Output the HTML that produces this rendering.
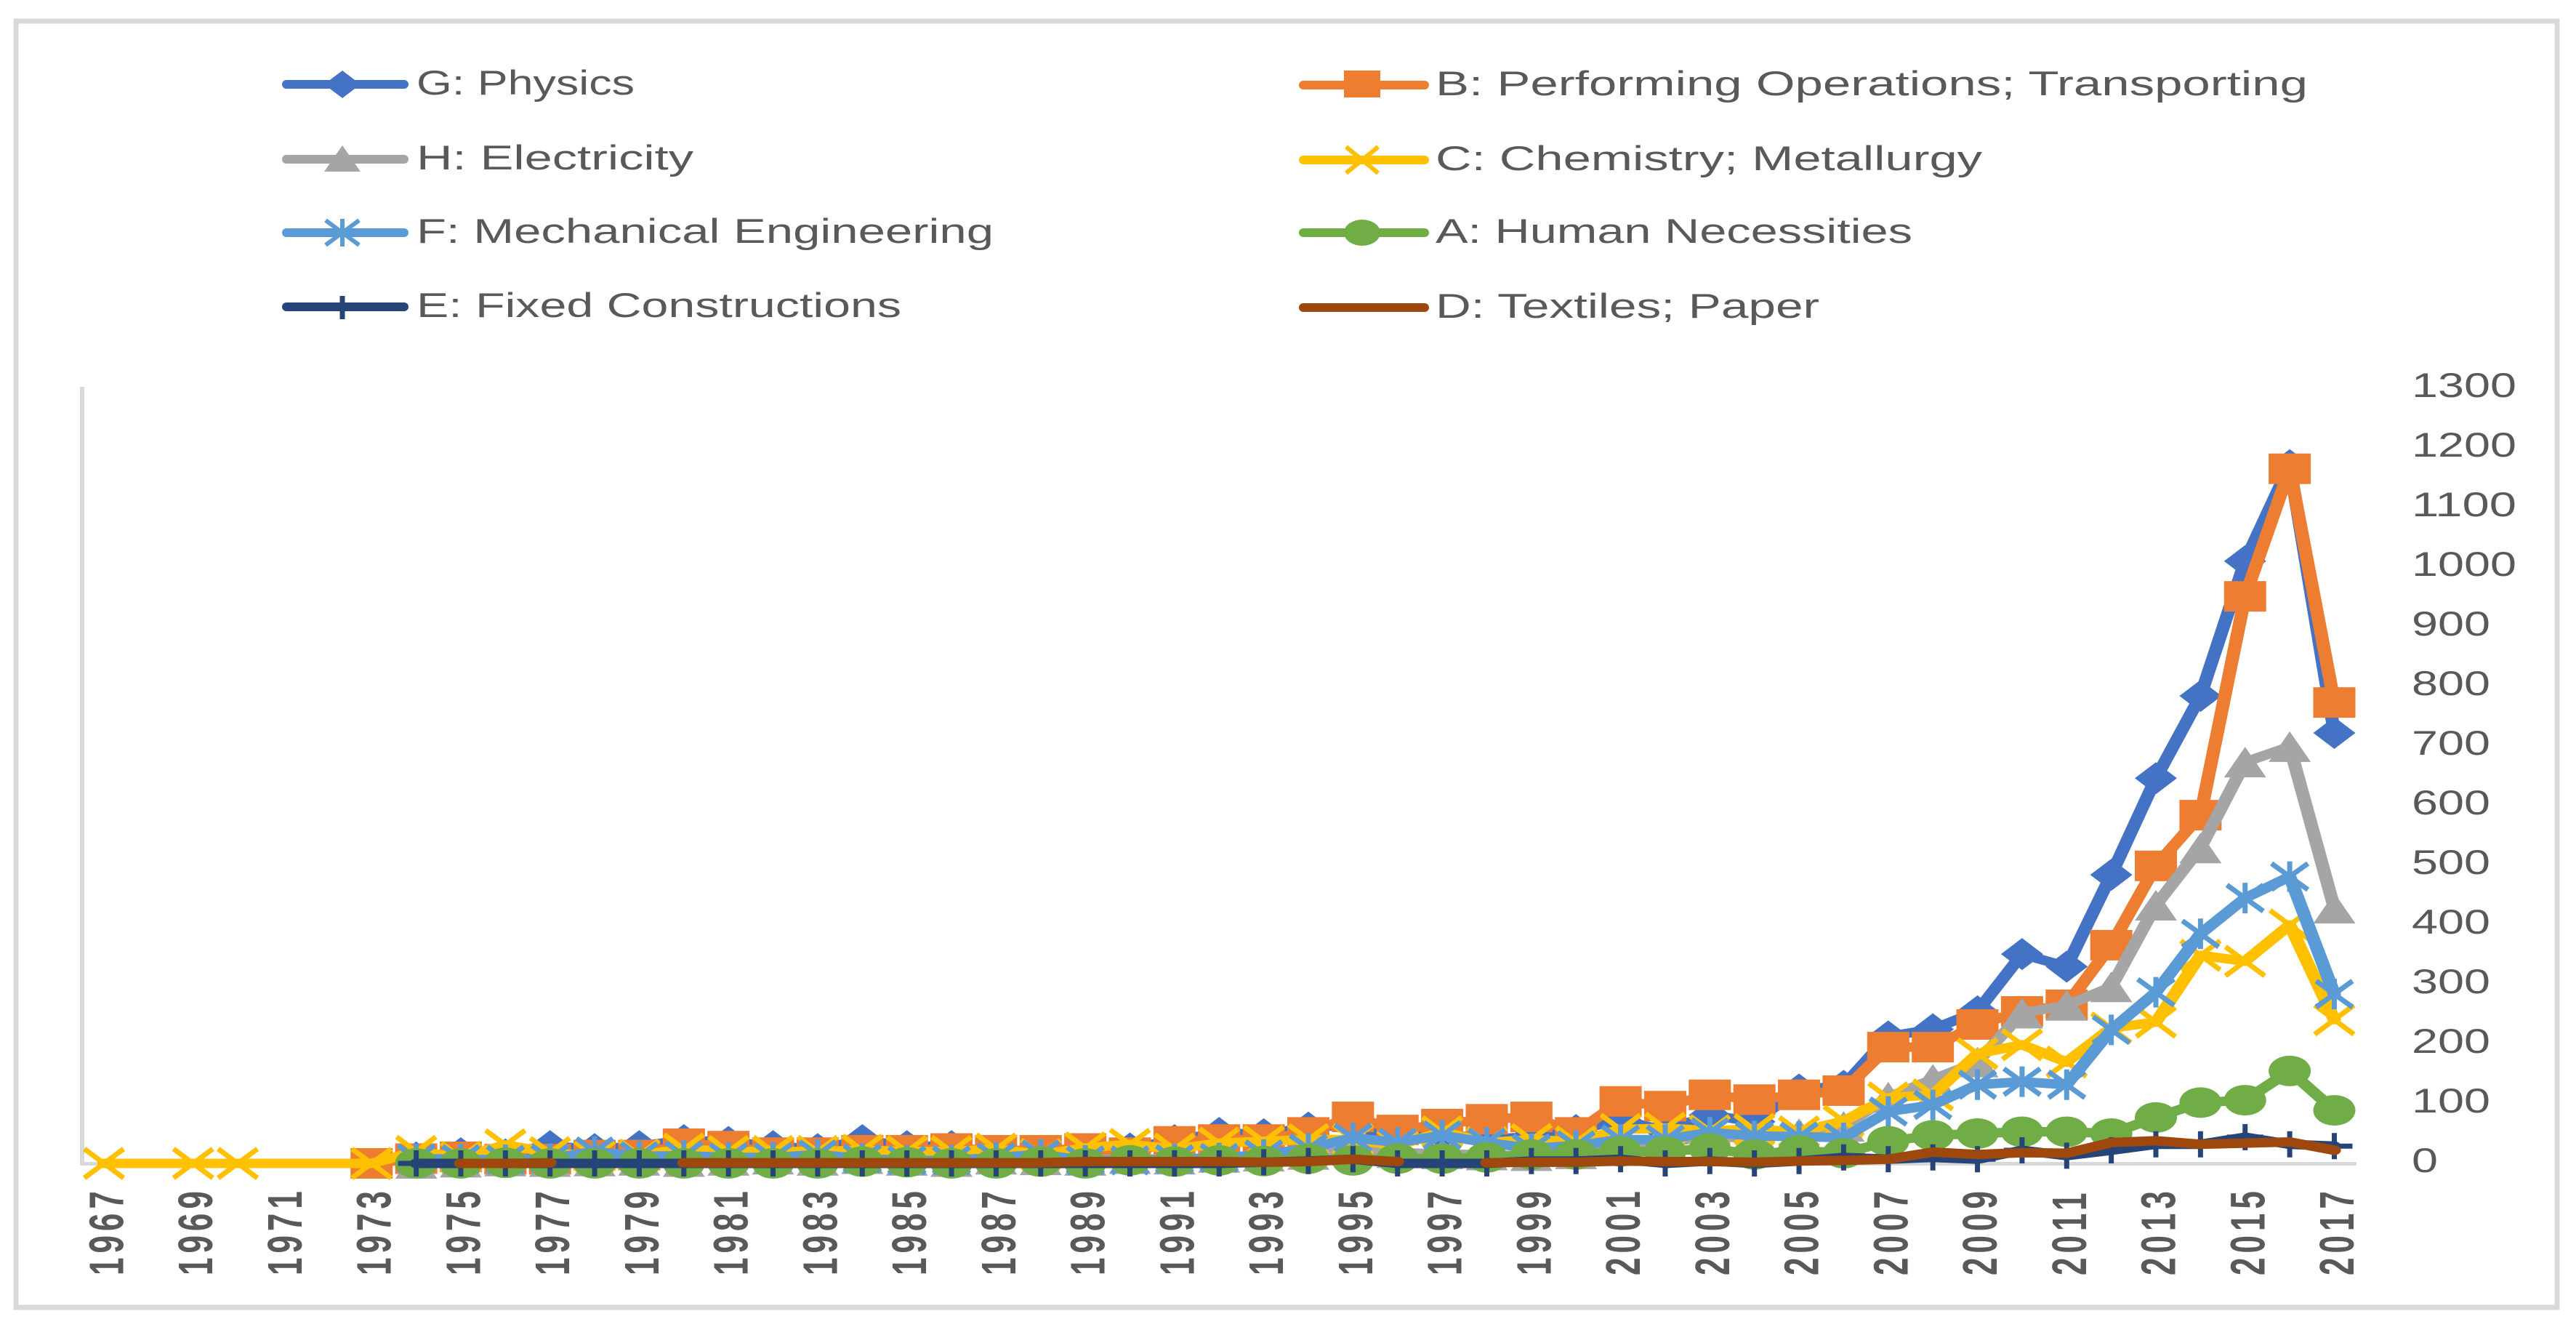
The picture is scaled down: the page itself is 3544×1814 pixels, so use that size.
<!DOCTYPE html>
<html lang="en">
<head>
<meta charset="utf-8">
<title>Patent classes by year</title>
<style>
html,body{margin:0;padding:0;background:#fff}
svg{display:block}
text{font-family:"Liberation Sans",sans-serif;fill:#595959}
</style>
</head>
<body>
<svg xmlns="http://www.w3.org/2000/svg" width="3544" height="1814" viewBox="0 0 3544 1814">
  <rect x="0" y="0" width="3544" height="1814" fill="#fff"/>
  <rect x="22" y="29" width="3496" height="1769" fill="#fff" stroke="#d9d9d9" stroke-width="7"/>

  <g id="legend">
    <g>
      <line x1="394" y1="116" x2="556" y2="116" stroke="#4472c4" stroke-width="12" stroke-linecap="round"/>
      <polygon points="471,97 496,116 471,135 446,116" fill="#4472c4"/>
      <text x="573" y="130" font-size="47" textLength="300" lengthAdjust="spacingAndGlyphs">G: Physics</text>
    </g>
    <g>
      <line x1="394" y1="219" x2="556" y2="219" stroke="#a5a5a5" stroke-width="12" stroke-linecap="round"/>
      <polygon points="471,200 496,236 446,236" fill="#a5a5a5"/>
      <text x="573" y="233" font-size="47" textLength="381" lengthAdjust="spacingAndGlyphs">H: Electricity</text>
    </g>
    <g>
      <line x1="394" y1="320" x2="556" y2="320" stroke="#5b9bd5" stroke-width="12" stroke-linecap="round"/>
      <path d="M448 303L494 337M494 303L448 337M471 301V339" stroke="#5b9bd5" stroke-width="6" fill="none"/>
      <text x="573" y="334" font-size="47" textLength="794" lengthAdjust="spacingAndGlyphs">F: Mechanical Engineering</text>
    </g>
    <g>
      <line x1="394" y1="422" x2="556" y2="422" stroke="#264478" stroke-width="12" stroke-linecap="round"/>
      <line x1="471" y1="407" x2="471" y2="439" stroke="#264478" stroke-width="7"/>
      <text x="573" y="436" font-size="47" textLength="667" lengthAdjust="spacingAndGlyphs">E: Fixed Constructions</text>
    </g>
    <g>
      <line x1="1793" y1="117" x2="1960" y2="117" stroke="#ed7d31" stroke-width="12" stroke-linecap="round"/>
      <rect x="1849" y="97" width="50" height="37" fill="#ed7d31"/>
      <text x="1975" y="131" font-size="47" textLength="1200" lengthAdjust="spacingAndGlyphs">B: Performing Operations; Transporting</text>
    </g>
    <g>
      <line x1="1793" y1="220" x2="1960" y2="220" stroke="#ffc000" stroke-width="12" stroke-linecap="round"/>
      <path d="M1852 202L1896 238M1896 202L1852 238" stroke="#ffc000" stroke-width="6" fill="none"/>
      <text x="1975" y="234" font-size="47" textLength="752" lengthAdjust="spacingAndGlyphs">C: Chemistry; Metallurgy</text>
    </g>
    <g>
      <line x1="1793" y1="320" x2="1960" y2="320" stroke="#70ad47" stroke-width="12" stroke-linecap="round"/>
      <ellipse cx="1874" cy="320" rx="25" ry="18" fill="#70ad47"/>
      <text x="1975" y="334" font-size="47" textLength="656" lengthAdjust="spacingAndGlyphs">A: Human Necessities</text>
    </g>
    <g>
      <line x1="1793" y1="423" x2="1960" y2="423" stroke="#9e480e" stroke-width="12" stroke-linecap="round"/>
      <text x="1975" y="437" font-size="47" textLength="528" lengthAdjust="spacingAndGlyphs">D: Textiles; Paper</text>
    </g>
  </g>

  <rect x="110" y="532" width="6" height="1071" fill="#d9d9d9"/>
  <rect x="112" y="1598" width="3130" height="5" fill="#d9d9d9"/>
  <g id="y-ticks"></g>
  <g id="x-ticks"></g>
  <g id="plot"></g>
</svg>

<script>
const startYear = 1967;
const yTickValues = [0,100,200,300,400,500,600,700,800,900,1000,1100,1200,1300];
const xTickLabels = ["1967","1969","1971","1973","1975","1977","1979","1981","1983","1985","1987","1989","1991","1993","1995","1997","1999","2001","2003","2005","2007","2009","2011","2013","2015","2017"];

const physics = [null,null,null,null,null,null,null,10,17,15,29,24,29,
  39,36,29,24,39,29,29,15,18,20,
  25,39,51,49,60,65,40,50,40,45,
  56,73,55,81,70,124,130,213,225,255,
  351,330,484,646,784,1010,1171,722];
const performing = [null,null,null,null,null,null,0,8,11,7,7,14,14,
  33,29,18,18,22,22,25,22,22,25,
  18,37,40,40,52,78,56,66,74,78,
  52,104,96,115,107,115,122,195,195,233,
  255,266,366,499,584,951,1165,773];
const electricity = [null,null,null,null,null,null,null,0,2,4,3,4,5,
  3,5,7,5,8,5,3,7,6,5,
  8,7,10,12,15,22,18,16,14,13,
  16,30,35,45,42,50,62,111,141,170,
  252,265,296,433,529,673,699,428];
const chemistry = [0,null,0,0,null,null,0,20,10,31,18,12,14,
  24,20,20,20,22,20,20,24,15,26,
  32,24,34,37,40,40,30,53,35,40,
  36,57,59,55,57,53,71,110,115,184,
  199,170,227,237,349,339,400,241];
const mechanical = [null,null,null,null,null,null,null,8,7,6,8,20,12,
  13,10,10,15,8,5,5,10,15,5,
  5,7,9,15,25,43,35,47,35,25,
  30,40,40,52,46,45,43,87,98,132,
  137,132,224,287,385,445,481,284];
const human = [null,null,null,null,null,null,null,0,0,1,0,0,0,
  0,0,0,0,3,2,0,0,3,0,
  5,3,5,4,8,5,8,8,10,15,
  15,20,20,25,15,22,17,37,47,50,
  53,53,50,77,102,106,155,89];
const fixed = [null,null,null,null,null,null,null,0,0,0,0,0,0,
  0,0,0,0,0,0,0,0,0,0,
  0,0,0,2,4,7,0,0,0,4,
  4,7,0,4,0,4,10,7,10,7,
  22,13,22,32,32,44,32,29];
const textiles = [null,null,null,null,null,null,null,null,0,0,1,null,null,
  1,1,1,1,1,1,1,1,1,3,
  3,3,3,2,3,7,3,null,1,2,
  2,4,3,3,2,4,5,7,19,15,
  18,17,35,38,32,34,36,22];

const seriesOrder = [
  {key:"g-physics", values:physics, color:"#4472c4", marker:"diamond", splitGaps:false},
  {key:"b-performing-operations", values:performing, color:"#ed7d31", marker:"square", splitGaps:false},
  {key:"h-electricity", values:electricity, color:"#a5a5a5", marker:"triangle", splitGaps:false},
  {key:"c-chemistry-metallurgy", values:chemistry, color:"#ffc000", marker:"cross", splitGaps:false},
  {key:"f-mechanical-engineering", values:mechanical, color:"#5b9bd5", marker:"asterisk", splitGaps:false},
  {key:"a-human-necessities", values:human, color:"#70ad47", marker:"circle", splitGaps:false},
  {key:"e-fixed-constructions", values:fixed, color:"#264478", marker:"plus", splitGaps:false},
  {key:"d-textiles-paper", values:textiles, color:"#9e480e", marker:"none", splitGaps:true}
];

const NS = "http://www.w3.org/2000/svg";
const lineStretch = 1.4;
function xScale(index){ return 143 + index * 61.37; }
function yScale(value){ return 1600 - value * 0.82; }
function mk(tag, parent){
  const el = document.createElementNS(NS, tag);
  parent.appendChild(el);
  return el;
}
const plot = document.getElementById("plot");
const yTicks = document.getElementById("y-ticks");
const xTicks = document.getElementById("x-ticks");

yTickValues.forEach(function(v){
  const t = mk("text", yTicks);
  
  
  t.setAttribute("x", 3318);
  t.setAttribute("y", yScale(v) + 12);
  t.setAttribute("font-size", 47);
  t.setAttribute("textLength", String(v).length * 36);
  t.setAttribute("lengthAdjust", "spacingAndGlyphs");
  t.textContent = String(v);
});

xTickLabels.forEach(function(label){
  const cx = xScale(Number(label) - startYear) + 3.5;
  const t = mk("text", xTicks);
  
  
  t.setAttribute("transform", "translate(" + (cx + 23) + ",1754) rotate(-90) scale(1,1.52)");
  t.setAttribute("font-size", 44);
  t.setAttribute("font-weight", "700");
  t.setAttribute("letter-spacing", "6");
  t.textContent = label;
});

function drawMarker(g, type, color, x, y){
  let m;
  if (type === "diamond") {
    m = mk("polygon", g);
    m.setAttribute("points", [x, y-22, x+29, y, x, y+22, x-29, y].join(","));
    m.setAttribute("fill", color);
  } else if (type === "square") {
    m = mk("rect", g);
    m.setAttribute("x", x-29); m.setAttribute("y", y-21);
    m.setAttribute("width", 58); m.setAttribute("height", 42);
    m.setAttribute("fill", color);
  } else if (type === "triangle") {
    m = mk("polygon", g);
    m.setAttribute("points", [x, y-21, x+29, y+21, x-29, y+21].join(","));
    m.setAttribute("fill", color);
  } else if (type === "circle") {
    m = mk("ellipse", g);
    m.setAttribute("cx", x); m.setAttribute("cy", y);
    m.setAttribute("rx", 29); m.setAttribute("ry", 21);
    m.setAttribute("fill", color);
  } else if (type === "cross") {
    m = mk("path", g);
    m.setAttribute("d", "M"+(x-27)+" "+(y-20)+"L"+(x+27)+" "+(y+20)+"M"+(x+27)+" "+(y-20)+"L"+(x-27)+" "+(y+20));
    m.setAttribute("stroke", color); m.setAttribute("stroke-width", 7); m.setAttribute("fill", "none");
  } else if (type === "asterisk") {
    m = mk("path", g);
    m.setAttribute("d", "M"+(x-25)+" "+(y-18)+"L"+(x+25)+" "+(y+18)+"M"+(x+25)+" "+(y-18)+"L"+(x-25)+" "+(y+18)+"M"+x+" "+(y-21)+"V"+(y+21));
    m.setAttribute("stroke", color); m.setAttribute("stroke-width", 7); m.setAttribute("fill", "none");
  } else if (type === "plus") {
    m = mk("path", g);
    m.setAttribute("d", "M"+(x-25)+" "+y+"H"+(x+25)+"M"+x+" "+(y-18)+"V"+(y+18));
    m.setAttribute("stroke", color); m.setAttribute("stroke-width", 7); m.setAttribute("fill", "none");
  }
  return m;
}

seriesOrder.forEach(function(s){
  const g = mk("g", plot);
  
  
  let segments = [[]];
  s.values.forEach(function(v, i){
    if (v === null) {
      if (s.splitGaps && segments[segments.length-1].length) segments.push([]);
      return;
    }
    segments[segments.length-1].push((xScale(i) / lineStretch) + "," + yScale(v));
  });
  segments.forEach(function(seg){
    if (!seg.length) return;
    const line = mk("polyline", g);
    
    
    line.setAttribute("transform", "scale(" + lineStretch + ",1)");
    line.setAttribute("points", seg.join(" "));
    line.setAttribute("fill", "none");
    line.setAttribute("stroke", s.color);
    line.setAttribute("stroke-width", 13);
    line.setAttribute("stroke-linejoin", "round");
    line.setAttribute("stroke-linecap", "round");
  });
  s.values.forEach(function(v, i){
    if (v === null || s.marker === "none") return;
    const m = drawMarker(g, s.marker, s.color, xScale(i), yScale(v));
    
    
  });
});
</script>
</body>
</html>
